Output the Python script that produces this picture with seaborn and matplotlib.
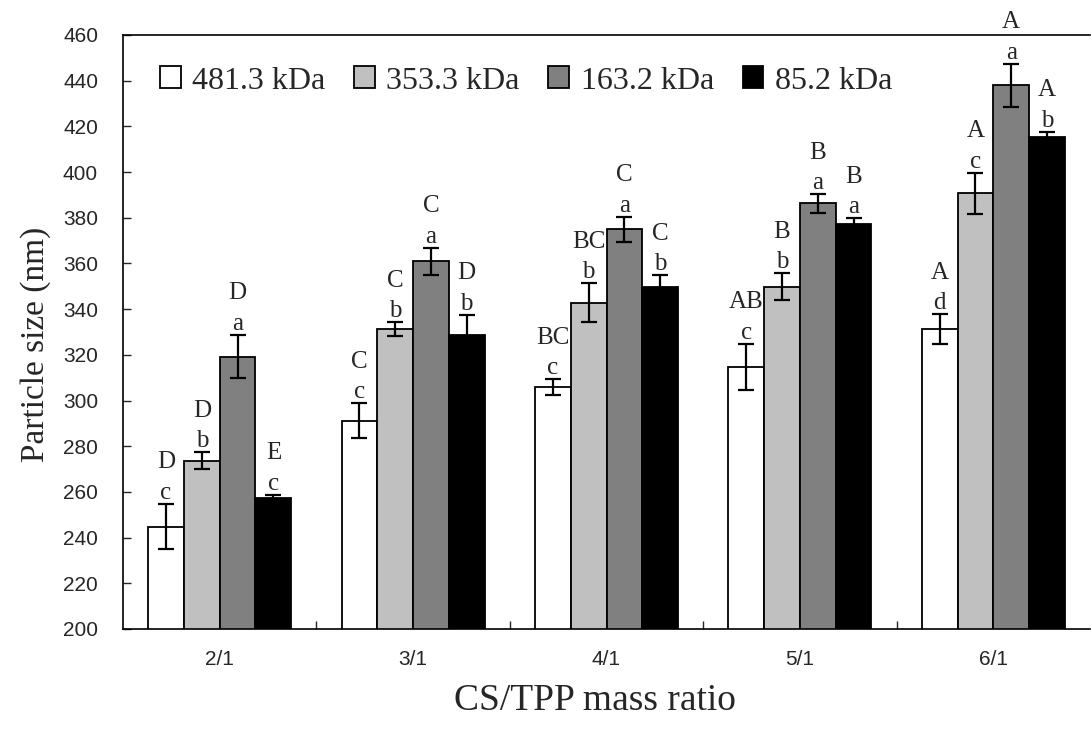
import matplotlib
matplotlib.use("Agg")
import matplotlib.pyplot as plt
import seaborn as sns
import pandas as pd
import numpy as np

ratios = ["2/1", "3/1", "4/1", "5/1", "6/1"]
series = ["481.3 kDa", "353.3 kDa", "163.2 kDa", "85.2 kDa"]
colors = ["#ffffff", "#c0c0c0", "#808080", "#000000"]

size_481 = [244.8, 291.2, 306.0, 314.8, 331.3]
size_353 = [273.7, 331.2, 342.8, 349.8, 390.7]
size_163 = [319.2, 360.9, 374.9, 386.3, 438.0]
size_85 = [257.2, 328.8, 349.8, 377.1, 415.4]

err_481 = [10.0, 7.6, 3.4, 10.0, 6.4]
err_353 = [3.7, 3.0, 8.5, 6.0, 9.0]
err_163 = [9.5, 6.0, 5.5, 4.0, 9.3]
err_85 = [1.5, 8.7, 5.0, 2.6, 2.2]

low_481 = ["c", "c", "c", "c", "d"]
low_353 = ["b", "b", "b", "b", "c"]
low_163 = ["a", "a", "a", "a", "a"]
low_85 = ["c", "b", "b", "a", "b"]

up_481 = ["D", "C", "BC", "AB", "A"]
up_353 = ["D", "C", "BC", "B", "A"]
up_163 = ["D", "C", "C", "B", "A"]
up_85 = ["E", "D", "C", "B", "A"]

values = [size_481, size_353, size_163, size_85]
errors = [err_481, err_353, err_163, err_85]
lowers = [low_481, low_353, low_163, low_85]
uppers = [up_481, up_353, up_163, up_85]

rows = []
for s, vals in zip(series, values):
    for r, v in zip(ratios, vals):
        rows.append({"ratio": r, "MW": s, "size": v})
df = pd.DataFrame(rows)

sns.set_style("ticks")
plt.rcParams["font.family"] = ["Liberation Serif", "DejaVu Serif"]

fig = plt.figure(figsize=(10.91, 7.35), dpi=100)
ax = fig.add_axes([123 / 1091, 1 - 629 / 735, (1090 - 123) / 1091, (629 - 35) / 735])

sns.barplot(data=df, x="ratio", y="size", hue="MW", order=ratios, hue_order=series,
            palette=colors, edgecolor="black", linewidth=1.3, width=0.74,
            errorbar=None, ax=ax, legend=True)

# error bars and letters
patches = [p for p in ax.patches if p.get_height() > 0][: len(series) * len(ratios)]
for si in range(len(series)):
    for ci in range(len(ratios)):
        p = patches[si * len(ratios) + ci]
        xc = p.get_x() + p.get_width() / 2
        top = values[si][ci]
        e = errors[si][ci]
        ax.errorbar(xc, top, yerr=e, fmt="none", ecolor="black", elinewidth=1.6,
                    capsize=6, capthick=1.6, zorder=5)
        ax.annotate(lowers[si][ci], (xc, top + e), xytext=(0, 0), textcoords="offset points",
                    ha="center", va="bottom", fontsize=18)
        ax.annotate(uppers[si][ci], (xc, top + e), xytext=(0, 22), textcoords="offset points",
                    ha="center", va="bottom", fontsize=18)

ax.set_ylim(200, 460)
ax.set_yticks(np.arange(200, 461, 20))
ax.set_xlim(-0.5, len(ratios) - 0.5)
ax.tick_params(axis="y", direction="in", length=6, width=1, pad=18, labelsize=15)
ax.tick_params(axis="x", which="major", length=0, pad=15, labelsize=15)
ax.set_xticks(np.arange(0.5, len(ratios) - 0.5, 1), minor=True)
ax.tick_params(axis="x", which="minor", direction="in", length=6, width=1)
for lab in ax.get_xticklabels() + ax.get_yticklabels():
    lab.set_fontfamily(["Liberation Sans", "DejaVu Sans"])

for side in ["left", "bottom", "top"]:
    ax.spines[side].set_visible(True)
    ax.spines[side].set_linewidth(1.2)
    ax.spines[side].set_color("black")
ax.spines["right"].set_visible(False)

ax.set_ylabel("Particle size (nm)", fontsize=24)
ax.yaxis.set_label_coords(-0.074, 0.48)
ax.set_xlabel("CS/TPP mass ratio", fontsize=27)
ax.xaxis.set_label_coords(0.488, -0.092)

handles, labels = ax.get_legend_handles_labels()
ax.legend(handles, labels, loc="center left", ncol=4, frameon=False, fontsize=23,
          bbox_to_anchor=(0.038, 0.9226), handlelength=0.65, handleheight=0.68,
          handletextpad=0.36, columnspacing=0.9, borderaxespad=0, borderpad=0)

fig.savefig("out.png", dpi=100)
